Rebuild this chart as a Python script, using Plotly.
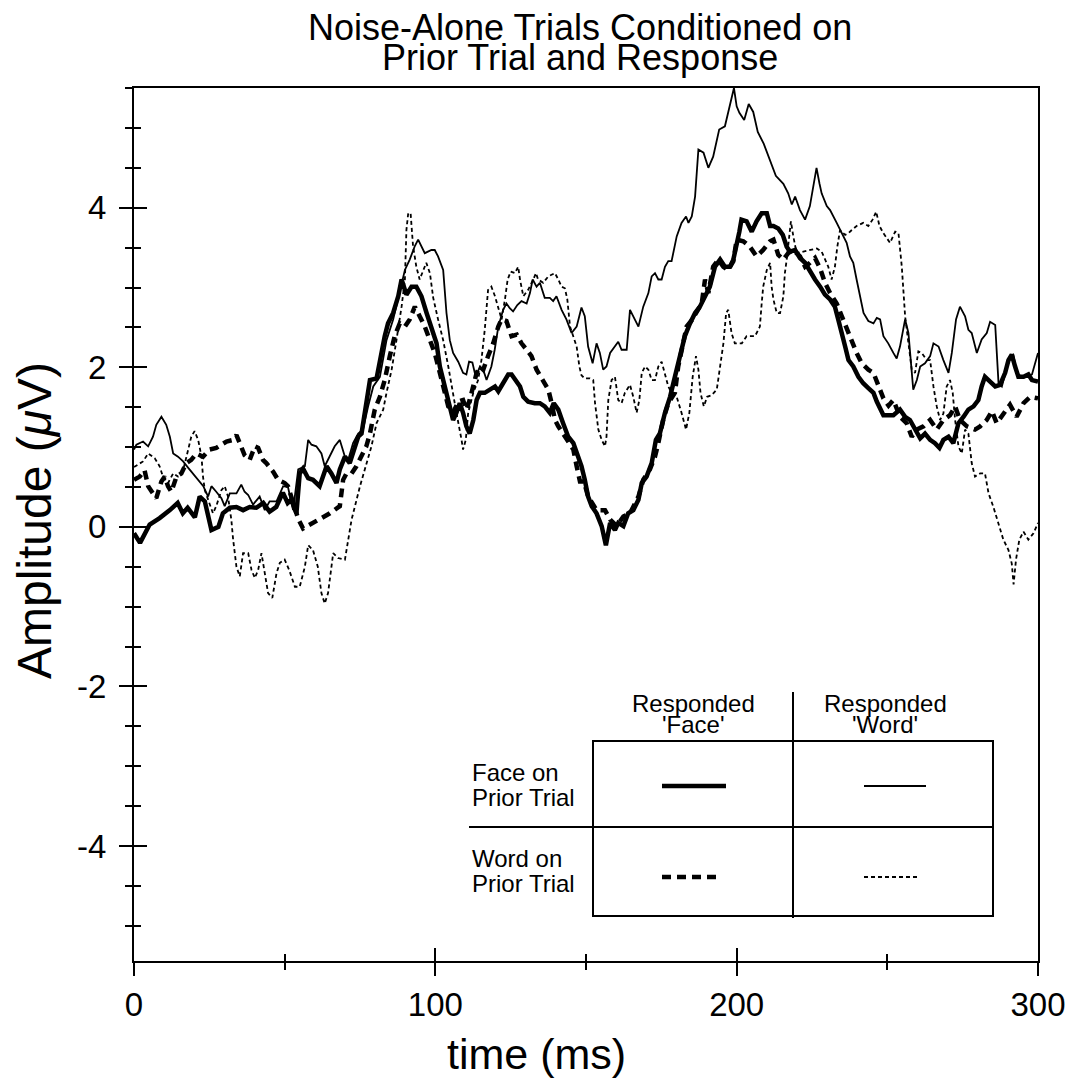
import plotly.graph_objects as go

# ---------------- data (time in ms, amplitude in microvolts) ----------------
# Face on prior trial, responded 'Face'  (thick solid)
t_ff = [0, 2, 5.2, 8.5, 11.9, 14.5, 16.2, 17.8, 20.2, 21.8,
        23.5, 25.7, 28, 29.5, 31.8, 34, 36.2, 38.4, 40.6, 42.9,
        45, 47.2, 49.4, 51, 52.2, 53.9, 55, 56.1, 57.8, 59.4,
        61.6, 63.9, 65.5, 67.2, 68.3, 70, 71.6, 73.3, 74.4, 75.5,
        76.6, 78.3, 80.5, 81.6, 83.2, 84.3, 86, 87.7, 88.8, 90.4,
        92.1, 93.7, 95.4, 97.1, 98.7, 100.4, 101.5, 103.1, 104.8, 105.9,
        107, 108.1, 109.2, 110.3, 111.4, 112.6, 113.7, 114.8, 116.4, 118.1,
        119.8, 120.9, 122.5, 124.2, 125.3, 126.7, 128.1, 129.2, 130.8, 133,
        134.7, 136.3, 138, 139.3, 140.8, 142.4, 144.1, 145.8, 147.4, 148.5,
        149.6, 150.7, 151.9, 153.5, 155.2, 156.6, 158, 159.6, 160.7, 162.4,
        164, 165.7, 167.4, 168.5, 170.1, 171.8, 173.2, 174.5, 176.2, 177.9,
        179.5, 181.2, 182.8, 184.5, 186.2, 187.8, 189.5, 191.1, 192.8, 194.5,
        196.1, 197.8, 198.9, 200, 200.9, 201.6, 203.3, 205, 206.6, 208.3,
        210, 211.1, 212.2, 213.8, 215.3, 216.6, 217.7, 219.4, 221, 222.7,
        224.3, 226, 227.7, 229.3, 231, 232.6, 233.7, 234.9, 236, 237.1,
        238.7, 240.4, 242, 243.7, 245.4, 246.5, 247.6, 248.7, 250.4, 252,
        254.2, 255.9, 257.5, 259.2, 260.9, 262.5, 264.2, 265.8, 267.3, 268.6,
        270.3, 271.9, 273.6, 275.3, 276.9, 278.6, 280.2, 281.3, 282.4, 284.1,
        285.8, 287.4, 289.1, 290.2, 291.3, 292.4, 293.5, 295.2, 296.8, 298,
        300]
v_ff = [-0.08, -0.2, 0.03, 0.11, 0.21, 0.3, 0.17, 0.24, 0.12, 0.38,
        0.32, -0.04, 0.0, 0.17, 0.24, 0.25, 0.21, 0.25, 0.24, 0.3,
        0.19, 0.25, 0.43, 0.3, 0.34, 0.17, 0.67, 0.73, 0.61, 0.59,
        0.51, 0.76, 0.67, 0.55, 0.72, 0.88, 0.8, 1.01, 1.13, 1.17,
        1.43, 1.84, 1.86, 2.09, 2.39, 2.55, 2.68, 2.89, 3.1, 2.91,
        3.01, 3.01, 2.89, 2.68, 2.51, 2.3, 2.01, 1.76, 1.47, 1.34,
        1.43, 1.55, 1.43, 1.26, 1.17, 1.34, 1.59, 1.68, 1.68, 1.72,
        1.76, 1.7, 1.8, 1.91, 1.91, 1.84, 1.76, 1.63, 1.57, 1.55,
        1.55, 1.51, 1.43, 1.55, 1.47, 1.3, 1.13, 1.05, 0.88, 0.76,
        0.59, 0.38, 0.26, 0.17, 0.01, -0.23, 0.05, -0.04, 0.05, 0.01,
        0.17, 0.21, 0.34, 0.55, 0.63, 0.8, 1.09, 1.17, 1.43, 1.63,
        1.88, 2.14, 2.39, 2.55, 2.68, 2.76, 2.89, 3.01, 3.26, 3.35,
        3.26, 3.26, 3.35, 3.52, 3.7, 3.85, 3.83, 3.7, 3.83, 3.93,
        3.93, 3.77, 3.77, 3.74, 3.66, 3.51, 3.45, 3.47, 3.37, 3.31,
        3.2, 3.1, 3.01, 2.91, 2.85, 2.76, 2.6, 2.39, 2.26, 2.09,
        2.01, 1.88, 1.8, 1.74, 1.68, 1.57, 1.47, 1.4, 1.4, 1.4,
        1.47, 1.38, 1.34, 1.22, 1.11, 1.17, 1.09, 1.05, 0.99, 1.09,
        1.13, 1.05, 1.3, 1.38, 1.47, 1.51, 1.59, 1.76, 1.88, 1.82,
        1.76, 1.78, 1.93, 2.09, 2.16, 2.01, 1.88, 1.88, 1.91, 1.84,
        1.82]

# Face on prior trial, responded 'Word'  (thin solid)
t_fw = [0, 0.8, 3, 4.7, 6.3, 7.4, 9.1, 10.7, 11.9, 13,
        14.6, 16.3, 18, 19.6, 21.3, 23, 24.6, 25.7, 27.3, 29,
        30.1, 31.8, 34, 35.6, 36.7, 37.9, 39.5, 41.7, 43.4, 45,
        47.3, 49.5, 51.1, 52.8, 54.5, 56.7, 57.8, 58.9, 60.5, 62.2,
        63.3, 65, 66.6, 68.3, 70, 71.1, 72.7, 74.4, 76, 77.7,
        79.4, 81.6, 83.8, 86, 88.2, 89.9, 91.5, 93.2, 94.3, 95.4,
        96.5, 98.7, 99.8, 100.9, 102.6, 103.7, 104.8, 105.9, 107.6, 109.2,
        110.3, 111.2, 112.3, 113.4, 114.8, 115.9, 117, 118.6, 119.7, 120.9,
        122.5, 123.6, 124.7, 125.8, 127.2, 128.6, 130.3, 131.4, 132.3, 133.6,
        134.7, 136.3, 138, 139.1, 140.2, 141.9, 143.5, 145.2, 146.9, 148.5,
        149.6, 150.7, 152.2, 153.5, 154.6, 155.7, 156.8, 158, 159.6, 160.7,
        161.8, 163.5, 164.6, 165.7, 167.4, 169, 170.7, 171.8, 172.9, 174,
        175.1, 176.2, 177.3, 178.4, 180.1, 181.7, 183.2, 184, 185.1, 186.2,
        187.3, 189, 190.6, 192.2, 193.4, 194.2, 196.1, 197.2, 198.3, 199.1,
        200, 200.9, 202.5, 204, 205.5, 207, 209, 211, 213, 215.5,
        217.1, 218.3, 219.4, 221, 222.7, 224.3, 225.4, 226.5, 227.5, 228.2,
        229.9, 231, 233.2, 235.4, 236.5, 237.6, 238.7, 239.8, 240.9, 242.1,
        243.7, 245.4, 246.5, 247.6, 248.7, 250.3, 252, 253.1, 254.2, 255.9,
        257, 258.1, 258.6, 259.8, 260.9, 262.5, 264.2, 265.3, 267, 268.6,
        270.3, 271.4, 272.8, 274.1, 275.8, 276.9, 278, 279.7, 281.3, 283,
        284.1, 285.8, 286.9, 288, 289.4, 290.7, 291.8, 293, 294.6, 296.3,
        298, 299, 300]
v_fw = [0.97, 1.03, 1.07, 1.01, 1.13, 1.28, 1.38, 1.28, 1.13, 0.92,
        0.88, 0.82, 0.74, 0.67, 0.59, 0.51, 0.38, 0.51, 0.44, 0.36,
        0.26, 0.42, 0.42, 0.53, 0.44, 0.4, 0.28, 0.38, 0.21, 0.32,
        0.32, 0.51, 0.5, 0.21, 0.72, 0.76, 1.09, 1.03, 1.01, 0.92,
        0.76, 0.88, 1.01, 1.09, 0.88, 0.84, 1.05, 1.17, 1.22, 1.51,
        1.76, 1.88, 2.34, 2.6, 2.97, 3.22, 3.35, 3.52, 3.6, 3.52,
        3.43, 3.47, 3.47, 3.39, 3.22, 2.68, 2.34, 2.18, 2.07, 1.93,
        1.91, 2.07, 2.06, 1.88, 2.01, 1.97, 1.84, 2.01, 2.22, 2.51,
        2.72, 2.8, 2.74, 2.7, 2.78, 2.83, 2.8, 2.93, 3.1, 3.01,
        3.06, 2.87, 2.87, 2.83, 2.89, 2.72, 2.6, 2.43, 2.51, 2.75,
        2.64, 2.26, 2.05, 2.3, 2.18, 1.97, 2.01, 2.18, 2.26, 2.32,
        2.22, 2.22, 2.72, 2.64, 2.51, 2.76, 2.93, 3.14, 3.18, 3.1,
        3.1, 3.26, 3.33, 3.33, 3.64, 3.81, 3.89, 3.81, 3.89, 4.14,
        4.73, 4.69, 4.5, 4.64, 4.85, 4.98, 5.02, 5.19, 5.35, 5.5,
        5.27, 5.19, 5.1, 5.3, 5.2, 4.95, 4.8, 4.6, 4.4, 4.3,
        4.18, 4.04, 4.14, 3.97, 3.85, 4.02, 4.27, 4.5, 4.3, 4.18,
        4.02, 3.97, 3.81, 3.64, 3.56, 3.39, 3.31, 3.1, 2.89, 2.68,
        2.58, 2.55, 2.62, 2.6, 2.39, 2.3, 2.18, 2.11, 2.26, 2.6,
        2.43, 1.93, 1.72, 1.84, 2.01, 2.05, 2.14, 2.3, 2.26, 2.09,
        1.93, 2.18, 2.6, 2.76, 2.64, 2.47, 2.43, 2.18, 2.35, 2.43,
        2.57, 2.53, 1.8, 1.76, 1.97, 2.14, 2.16, 1.93, 1.88, 1.88,
        1.91, 2.03, 2.18]

# Word on prior trial, responded 'Face'  (thick dashed)
t_wf = [0, 1.9, 3.5, 4.7, 6.3, 7.4, 9.1, 10.2, 11.3, 12.4,
        14.1, 15.7, 17.4, 19, 20.7, 22.9, 25.1, 27.3, 30.7, 32.9,
        34, 35.1, 36.7, 38.4, 40.1, 41.2, 42.8, 43.9, 46.2, 47.8,
        50, 51.1, 53, 54.5, 56.1, 59.4, 61.6, 65, 68.3, 69.4,
        70.5, 72.2, 73.8, 75.5, 77.1, 78.3, 79.9, 81.6, 83.2, 84.9,
        86.5, 88.2, 89.9, 91.5, 93.2, 94.8, 96.5, 98.2, 99.8, 101.5,
        102.6, 104.3, 105.9, 107.6, 109.2, 110.3, 111.4, 112.6, 113.7, 114.8,
        115.9, 117.5, 119.2, 120.9, 122, 123.6, 125.3, 127, 128.6, 130.3,
        131.9, 133.6, 135.8, 137.5, 138.6, 139.7, 140.8, 142.4, 144.1, 145.8,
        146.9, 148, 149.3, 150.7, 153.5, 156.3, 158, 160.2, 162.4, 164.6,
        167.4, 169, 171.2, 172.9, 174, 175.6, 177.3, 179.5, 180.6, 182.3,
        183.4, 185.1, 186.7, 188.4, 189.5, 190.6, 192.2, 193.9, 195.6, 197.2,
        198.9, 200, 202.2, 204.4, 206.6, 208.8, 211.1, 212.2, 213.8, 215.5,
        217.1, 218.8, 221, 222.7, 224.3, 226, 227.7, 229.3, 231, 233.2,
        234.9, 237.1, 238.7, 239.8, 241.5, 243.7, 245.4, 247, 248.7, 250.4,
        252, 254.2, 256.4, 258.1, 259.8, 262, 264.2, 266.4, 268.6, 270.8,
        272.5, 274.1, 276.4, 279.1, 280.8, 283, 284.7, 286.3, 288.5, 290.7,
        292.9, 295.2, 297.4, 300]
v_wf = [0.59, 0.63, 0.71, 0.51, 0.42, 0.36, 0.57, 0.63, 0.51, 0.44,
        0.63, 0.67, 0.8, 0.84, 0.92, 0.88, 0.97, 0.99, 1.07, 1.09,
        1.15, 1.05, 0.9, 0.84, 1.01, 0.99, 0.84, 0.8, 0.69, 0.59,
        0.55, 0.51, 0.3, 0.1, -0.02, 0.05, 0.09, 0.17, 0.26, 0.59,
        0.67, 0.67, 0.76, 0.88, 1.01, 1.17, 1.47, 1.63, 1.84, 2.14,
        2.39, 2.55, 2.51, 2.6, 2.76, 2.64, 2.51, 2.34, 2.18, 1.93,
        1.76, 1.51, 1.43, 1.57, 1.59, 1.47, 1.59, 1.76, 1.93, 2.01,
        1.97, 2.14, 2.3, 2.51, 2.6, 2.58, 2.39, 2.41, 2.3, 2.22,
        2.14, 1.97, 1.84, 1.72, 1.55, 1.34, 1.26, 1.17, 1.05, 0.97,
        0.76, 0.57, 0.57, 0.38, 0.21, 0.21, 0.09, 0.01, 0.13, 0.17,
        0.38, 0.59, 0.72, 0.88, 1.05, 1.34, 1.55, 1.68, 2.01, 2.34,
        2.51, 2.59, 2.68, 2.8, 3.1, 2.93, 3.26, 3.35, 3.26, 3.22,
        3.33, 3.6, 3.58, 3.51, 3.39, 3.47, 3.58, 3.6, 3.41, 3.35,
        3.43, 3.47, 3.39, 3.26, 3.31, 3.37, 3.24, 3.06, 2.93, 2.8,
        2.64, 2.43, 2.26, 2.18, 2.05, 1.97, 1.93, 1.76, 1.61, 1.52,
        1.59, 1.38, 1.3, 1.13, 1.22, 1.26, 1.34, 1.22, 1.34, 1.4,
        1.51, 1.34, 1.26, 1.22, 1.26, 1.34, 1.45, 1.3, 1.42, 1.53,
        1.38, 1.55, 1.63, 1.61]

# Word on prior trial, responded 'Word'  (thin dotted)
t_ww = [0, 3, 4.7, 6.9, 8.5, 9.6, 11.3, 13, 14.6, 16.3,
        18, 19, 20.1, 21.3, 22.4, 22.9, 23.5, 24.6, 26.2, 27.3,
        29, 30.1, 31.2, 32.3, 32.9, 34, 35.1, 36.2, 37.9, 39,
        40.1, 41.2, 42.3, 43.4, 44.5, 45.9, 47.3, 48.4, 50, 51.5,
        53.4, 55, 56.7, 57.8, 59.4, 61, 62.2, 63.3, 64.4, 66.1,
        67.7, 70, 71, 72.2, 75, 76.6, 78.8, 80.5, 82.7, 83.8,
        85.5, 87.1, 88.8, 89.9, 90.4, 91, 91.8, 92.6, 93.7, 94.8,
        97, 98.2, 99.3, 100.9, 102.6, 104.3, 105.4, 107, 108.7, 109.2,
        110.1, 110.9, 112.6, 114.2, 115.3, 116.4, 117.5, 118.6, 119.8, 120.9,
        122, 123.1, 124, 125, 126.4, 127.5, 128.1, 129.2, 130.8, 132.5,
        133.4, 134.1, 135.8, 137.5, 139.7, 140.8, 141.9, 143, 143.8, 144.7,
        145.8, 146.9, 147.8, 148.5, 149.6, 151.3, 152.4, 153, 154.1, 155.2,
        156.3, 156.8, 157.4, 158.5, 159.6, 160.7, 161.8, 162.9, 164.6, 165.7,
        166.8, 167.7, 168.5, 169.6, 170.7, 171.8, 172.9, 174, 175.1, 176.2,
        177.3, 178.4, 180.1, 181.7, 183.2, 184.3, 185.4, 186.5, 187.3, 188,
        189.1, 190.2, 191.7, 193.4, 194.5, 195.6, 196.5, 197.2, 198.3, 199.4,
        201.7, 203.3, 206.1, 207.7, 208.3, 208.8, 210, 211.1, 211.6, 212.2,
        213.3, 214.4, 215.5, 216, 216.6, 217.5, 218, 218.8, 219.9, 222.1,
        224.3, 226.6, 228.2, 229.3, 230.4, 231.5, 232.6, 233.4, 234.3, 236,
        237.1, 238.2, 239.8, 242, 243.7, 245.1, 246.3, 247.4, 248.7, 250.9,
        252.6, 253.7, 254.8, 255.9, 257, 258.1, 259.2, 260.3, 261.4, 263.1,
        264.2, 265.3, 266.4, 267.5, 268.6, 269.7, 270.8, 271.7, 272.5, 273.6,
        274.7, 275.8, 276.9, 278, 279.1, 280.8, 282.4, 283.6, 285.2, 286.9,
        288.5, 290.2, 291.3, 291.9, 292.7, 293.8, 295.2, 296.8, 298.5, 300]
v_ww = [0.75, 0.82, 0.92, 0.86, 0.76, 0.63, 0.55, 0.67, 0.63, 0.71,
        0.97, 1.13, 1.2, 1.09, 0.88, 0.63, 0.46, 0.34, 0.17, 0.26,
        0.46, 0.51, 0.38, 0.09, -0.16, -0.5, -0.62, -0.33, -0.33, -0.54,
        -0.64, -0.54, -0.33, -0.58, -0.83, -0.89, -0.58, -0.45, -0.41, -0.54,
        -0.75, -0.75, -0.5, -0.23, -0.29, -0.5, -0.83, -0.96, -0.83, -0.33,
        -0.39, -0.41, -0.16, 0.09, 0.51, 0.72, 1.01, 1.3, 1.47, 1.68,
        1.97, 2.34, 2.76, 3.1, 3.72, 3.93, 3.93, 3.52, 3.26, 3.1,
        3.31, 3.18, 2.87, 2.6, 2.34, 2.01, 1.76, 1.43, 1.09, 0.97,
        1.09, 1.43, 1.68, 1.84, 2.09, 2.47, 2.97, 3.01, 2.89, 2.76,
        2.6, 2.85, 3.1, 3.2, 3.18, 3.26, 3.1, 2.89, 2.97, 3.1,
        3.18, 3.1, 3.06, 3.14, 3.18, 3.1, 3.01, 2.99, 2.85, 2.51,
        2.39, 2.26, 2.01, 1.9, 1.86, 1.86, 1.84, 1.55, 1.22, 1.09,
        1.01, 1.13, 1.59, 1.84, 1.88, 1.59, 1.55, 1.68, 1.78, 1.63,
        1.43, 1.59, 1.93, 2.01, 1.97, 1.84, 1.84, 2.01, 2.07, 1.93,
        1.76, 1.68, 1.63, 1.43, 1.22, 1.43, 1.88, 2.14, 1.97, 1.68,
        1.51, 1.63, 1.65, 1.72, 2.01, 2.3, 2.68, 2.72, 2.43, 2.3,
        2.3, 2.39, 2.39, 2.51, 2.8, 3.01, 3.22, 3.31, 3.01, 2.85,
        2.68, 2.68, 2.89, 3.18, 3.35, 3.68, 3.83, 3.64, 3.43, 3.45,
        3.47, 3.49, 3.45, 3.35, 3.26, 3.1, 3.26, 3.51, 3.72, 3.66,
        3.68, 3.72, 3.77, 3.81, 3.77, 3.85, 3.95, 3.77, 3.68, 3.56,
        3.7, 3.68, 3.26, 2.64, 2.3, 1.97, 1.93, 2.2, 2.18, 2.09,
        2.09, 1.76, 1.51, 1.34, 1.42, 1.76, 1.84, 1.68, 1.34, 1.01,
        0.92, 1.22, 1.17, 0.8, 0.63, 0.67, 0.67, 0.42, 0.25, 0.05,
        -0.16, -0.29, -0.46, -0.72, -0.41, -0.16, -0.06, -0.16, -0.08, 0.05]

x_ticks = [0, 100, 200, 300]
y_ticks = [-4, -2, 0, 2, 4]

title_lines = ["Noise-Alone Trials Conditioned on", "Prior Trial and Response"]
x_title = "time (ms)"
y_title = "Amplitude (<i>μ</i>V)"
col_headers = [["Responded", "'Face'"], ["Responded", "'Word'"]]
row_labels = [["Face on", "Prior Trial"], ["Word on", "Prior Trial"]]

# ---------------- layout helpers ----------------
# The page body adds an 8px margin on every side, so the figure is sized to
# fit the 1073x1086 window exactly; helpers below take screen pixel positions.
OFF = 8
W, H = 1057, 1070
ML, MR, MT, MB = 126, 27, 80, 117
PW, PH = W - ML - MR, H - MT - MB
FONT = "Liberation Sans, Arial, Helvetica, sans-serif"
TICK_FONT = 33


def fx(px):
    return (px - OFF - ML) / PW


def fy(py):
    return (H - MB - (py - OFF)) / PH


X_RANGE = [0, 300]
Y_RANGE = [-5.44, 5.5]

styles = {
    "ff": dict(width=4.5, dash="solid"),
    "fw": dict(width=1.8, dash="solid"),
    "wf": dict(width=4.5, dash="9px,6px"),
    "ww": dict(width=1.8, dash="4px,3px"),
}

fig = go.Figure()
for key, t, v in [("fw", t_fw, v_fw), ("ww", t_ww, v_ww),
                  ("wf", t_wf, v_wf), ("ff", t_ff, v_ff)]:
    assert len(t) == len(v), key
    fig.add_trace(go.Scatter(x=t, y=v, mode="lines",
                             line=dict(color="black", **styles[key]),
                             showlegend=False, hoverinfo="skip"))

# dummy trace so the overlay axes (inside half of the crossing ticks) exist
fig.add_trace(go.Scatter(x=[None], y=[None], xaxis="x2", yaxis="y2",
                         showlegend=False, hoverinfo="skip"))

axis_common = dict(showgrid=False, zeroline=False, color="black",
                   tickcolor="black", tickwidth=2, automargin=False)

fig.update_layout(
    width=W, height=H,
    margin=dict(l=ML, r=MR, t=MT, b=MB, autoexpand=False),
    paper_bgcolor="white", plot_bgcolor="white",
    font=dict(family=FONT, color="black"),
    xaxis=dict(range=X_RANGE, tickmode="array", tickvals=x_ticks,
               ticktext=[str(v) for v in x_ticks],
               ticks="outside", ticklen=13, ticklabeloverflow="allow",
               minor=dict(tickmode="linear", tick0=0, dtick=50, ticks="outside",
                          ticklen=7, tickwidth=2, tickcolor="black"),
               showline=True, linewidth=2, linecolor="black", mirror=True,
               tickfont=dict(size=TICK_FONT, family=FONT), **axis_common),
    yaxis=dict(range=Y_RANGE, tickmode="array", tickvals=y_ticks,
               ticktext=[str(v) for v in y_ticks],
               ticks="outside", ticklen=13,
               minor=dict(tickmode="linear", tick0=0, dtick=0.5, ticks="outside",
                          ticklen=7, tickwidth=2, tickcolor="black"),
               showline=True, linewidth=2, linecolor="black", mirror=True,
               tickfont=dict(size=TICK_FONT, family=FONT), ticklabelstandoff=6,
               **axis_common),
    xaxis2=dict(range=X_RANGE, overlaying="x", anchor="y", side="bottom",
                tickmode="array", tickvals=x_ticks, ticks="inside", ticklen=13,
                minor=dict(tickmode="linear", tick0=0, dtick=50, ticks="inside",
                           ticklen=7, tickwidth=2, tickcolor="black"),
                showticklabels=False, showline=False, **axis_common),
    yaxis2=dict(range=Y_RANGE, overlaying="y", anchor="x", side="left",
                tickmode="array", tickvals=y_ticks, ticks="inside", ticklen=13,
                minor=dict(tickmode="linear", tick0=0, dtick=0.5, ticks="inside",
                           ticklen=7, tickwidth=2, tickcolor="black"),
                showticklabels=False, showline=False, **axis_common),
)

ann = []


def text(s, px, py, size, xanchor="center", angle=0):
    ann.append(dict(text=s, x=fx(px), y=fy(py), xref="paper", yref="paper",
                    showarrow=False, xanchor=xanchor, yanchor="middle",
                    textangle=angle, font=dict(size=size, family=FONT, color="black")))


# title
text(title_lines[0], 580, 27, 36)
text(title_lines[1], 580, 58, 36)
# axis titles
text(x_title, 536, 1054, 43)
text(y_title, 34, 521, 48, angle=-90)

# legend table
LEG_FONT = 24
text(col_headers[0][0], 693, 703, LEG_FONT)
text(col_headers[0][1], 693, 724, LEG_FONT)
text(col_headers[1][0], 885, 703, LEG_FONT)
text(col_headers[1][1], 885, 724, LEG_FONT)
text(row_labels[0][0], 470, 772, LEG_FONT, xanchor="left")
text(row_labels[0][1], 470, 797, LEG_FONT, xanchor="left")
text(row_labels[1][0], 470, 858, LEG_FONT, xanchor="left")
text(row_labels[1][1], 470, 883, LEG_FONT, xanchor="left")

shapes = []


def seg(x0, y0, x1, y1, width=2, dash="solid"):
    shapes.append(dict(type="line", xref="paper", yref="paper",
                       x0=fx(x0), y0=fy(y0), x1=fx(x1), y1=fy(y1),
                       line=dict(color="black", width=width, dash=dash)))


shapes.append(dict(type="rect", xref="paper", yref="paper",
                   x0=fx(593), x1=fx(993), y0=fy(916), y1=fy(741),
                   line=dict(color="black", width=2)))
seg(793, 692, 793, 918)
seg(469, 827, 993, 827)
seg(662, 786, 726, 786, **styles["ff"])
seg(864, 786, 926, 786, **styles["fw"])
seg(662, 877, 722, 877, **styles["wf"])
seg(864, 877, 920, 877, **styles["ww"])

fig.update_layout(annotations=ann, shapes=shapes)
fig.write_html("out.html", config={"displayModeBar": False})
